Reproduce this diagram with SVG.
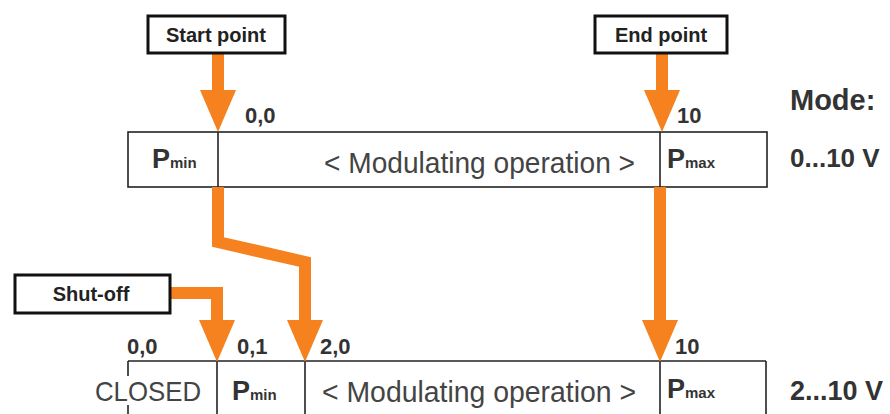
<svg xmlns="http://www.w3.org/2000/svg" width="890" height="414" viewBox="0 0 890 414">
  <style>
    .tag { fill: #fff; stroke: #111; stroke-width: 3; }
    .tag-text { font-family: "Liberation Sans", Arial, sans-serif; font-weight: bold; font-size: 20px; fill: #222; text-anchor: middle; }
    .scale { fill: #fff; stroke: #222; stroke-width: 1.6; }
    .div { stroke: #222; stroke-width: 1.6; }
    .num { font-family: "Liberation Sans", Arial, sans-serif; font-weight: bold; font-size: 22px; fill: #333; }
    .op { font-family: "Liberation Sans", Arial, sans-serif; font-size: 30px; fill: #444; }
    .closed { font-family: "Liberation Sans", Arial, sans-serif; font-size: 28px; fill: #444; }
    .p { font-family: "Liberation Sans", Arial, sans-serif; font-weight: bold; font-size: 27px; fill: #333; }
    .sub { font-size: 15px; }
    .mode { font-family: "Liberation Sans", Arial, sans-serif; font-weight: bold; fill: #333; }
    .flow { fill: none; stroke: #F5821F; stroke-width: 12; stroke-linejoin: miter; marker-end: url(#head); }
  </style>
  <defs>
    <marker id="head" markerUnits="userSpaceOnUse" markerWidth="42" markerHeight="36" viewBox="0 0 42 36" refX="0" refY="18" orient="auto">
      <path d="M0,0 L42,18 L0,36 Z" fill="#F5821F"/>
    </marker>
  </defs>

  <rect width="890" height="414" fill="#fff"/>

  <!-- 0...10 V scale -->
  <g id="scale-0-10">
    <rect class="scale" x="128" y="132" width="639" height="55"/>
    <line class="div" x1="218" y1="132" x2="218" y2="187"/>
    <line class="div" x1="660" y1="132" x2="660" y2="187"/>
    <text class="num" x="245" y="123">0,0</text>
    <text class="num" x="677" y="123">10</text>
    <text class="p" x="152" y="168">P<tspan class="sub">min</tspan></text>
    <text class="op" x="324" y="173" textLength="311" lengthAdjust="spacingAndGlyphs">&lt; Modulating operation &gt;</text>
    <text class="p" x="667" y="168">P<tspan class="sub">max</tspan></text>
  </g>

  <!-- 2...10 V scale -->
  <g id="scale-2-10">
    <line class="div" x1="128" y1="361" x2="766" y2="361"/>
    <line class="div" x1="128" y1="361" x2="128" y2="376"/>
    <line class="div" x1="128" y1="405" x2="128" y2="416"/>
    <line class="div" x1="217" y1="361" x2="217" y2="416"/>
    <line class="div" x1="305" y1="361" x2="305" y2="416"/>
    <line class="div" x1="660" y1="361" x2="660" y2="416"/>
    <line class="div" x1="766" y1="361" x2="766" y2="416"/>
    <text class="num" x="127" y="354">0,0</text>
    <text class="num" x="237" y="354">0,1</text>
    <text class="num" x="320" y="354">2,0</text>
    <text class="num" x="675" y="354">10</text>
    <text class="closed" x="95" y="401" textLength="106" lengthAdjust="spacingAndGlyphs">CLOSED</text>
    <text class="p" x="232" y="400">P<tspan class="sub">min</tspan></text>
    <text class="op" x="322" y="402" textLength="314" lengthAdjust="spacingAndGlyphs">&lt; Modulating operation &gt;</text>
    <text class="p" x="667" y="398">P<tspan class="sub">max</tspan></text>
  </g>

  <!-- mode labels -->
  <g id="mode">
    <text class="mode" x="790" y="110" font-size="29">Mode:</text>
    <text class="mode" x="790" y="167" font-size="26">0...10 V</text>
    <text class="mode" x="790" y="400" font-size="27">2...10 V</text>
  </g>

  <!-- orange flow arrows -->
  <g id="connectors">
    <path class="flow" d="M218,53 V90"/>
    <path class="flow" d="M662,53 V90"/>
    <path class="flow" d="M218,187 V242 L305,262 V320"/>
    <path class="flow" d="M170,293 H217 V320"/>
    <path class="flow" d="M660,187 V320"/>
  </g>

  <g id="start-point">
    <rect class="tag" x="148" y="16" width="137" height="37"/>
    <text class="tag-text" x="216" y="42">Start point</text>
  </g>
  <g id="end-point">
    <rect class="tag" x="595" y="16" width="132" height="37"/>
    <text class="tag-text" x="661" y="42">End point</text>
  </g>
  <g id="shut-off">
    <rect class="tag" x="15" y="275" width="155" height="38"/>
    <text class="tag-text" x="91" y="301">Shut-off</text>
  </g>
</svg>
